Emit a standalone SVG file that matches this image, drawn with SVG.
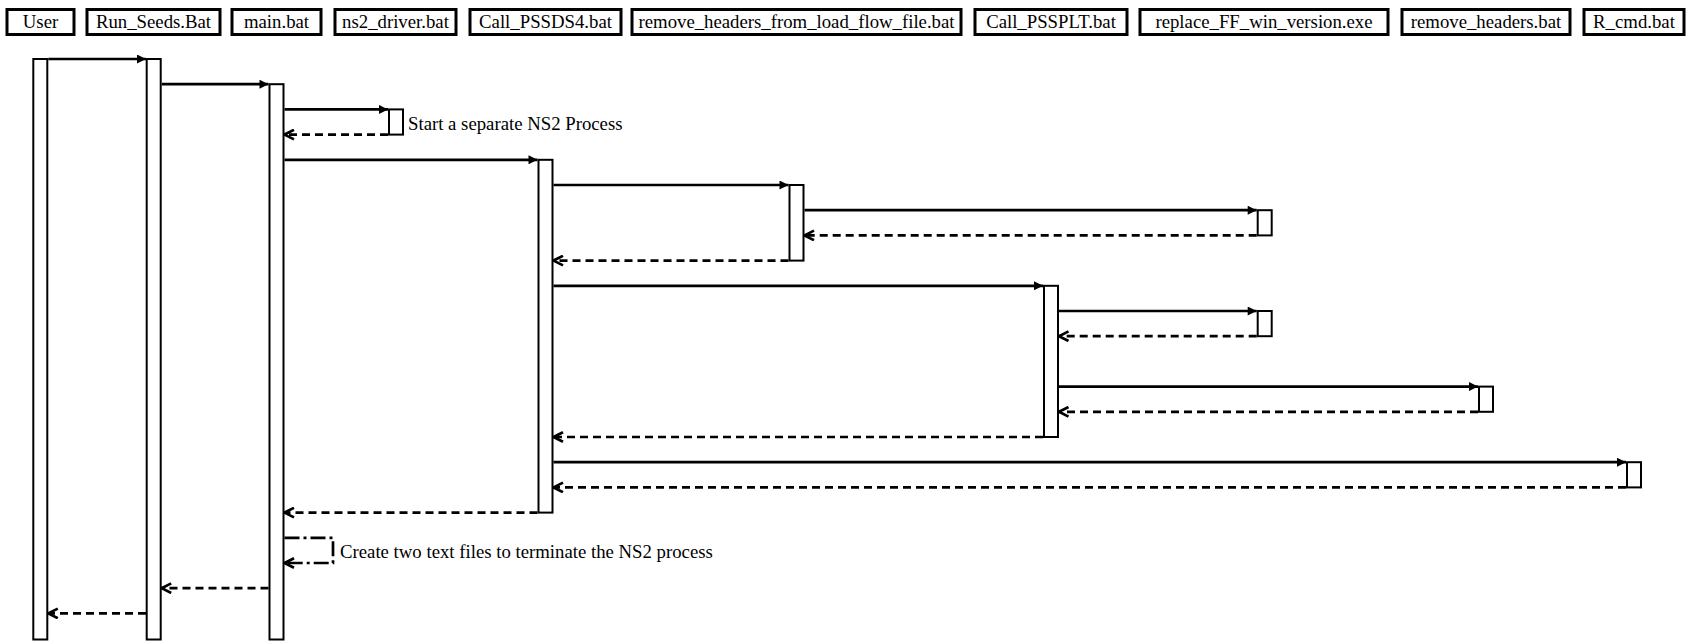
<svg xmlns="http://www.w3.org/2000/svg" width="1690" height="642" viewBox="0 0 1690 642">
<style>
  .hdr { fill: #fff; stroke: #000; stroke-width: 3; }
  .bar { fill: #fff; stroke: #000; stroke-width: 2; }
  .lbl { font-family: "Liberation Serif", "Times New Roman", serif; font-size: 18.75px; fill: #000; }
  .hl { text-anchor: middle; }
  .call { fill: none; stroke: #000; stroke-width: 2.7; marker-end: url(#solid); }
  .ret { fill: none; stroke: #000; stroke-width: 2.7; stroke-dasharray: 8 5; marker-end: url(#open); }
  .self { fill: none; stroke: #000; stroke-width: 2.7; stroke-dasharray: 15 4 3 4; marker-end: url(#open); }
</style>
<defs>
  <marker id="solid" markerUnits="userSpaceOnUse" viewBox="0 0 10 10" refX="10" refY="5" markerWidth="10" markerHeight="9" orient="auto">
    <path d="M0,0 L10,5 L0,10 z" fill="#000" stroke="none"/>
  </marker>
  <marker id="open" markerUnits="userSpaceOnUse" viewBox="0 0 12 12" refX="11" refY="6" markerWidth="12" markerHeight="12" orient="auto">
    <path d="M1.5,1.2 L11,6 L1.5,10.8" fill="none" stroke="#000" stroke-width="2.7" stroke-dasharray="none"/>
  </marker>
</defs>
<rect width="1690" height="642" fill="#fff"/>

<g id="user">
  <rect class="hdr" x="7" y="9.5" width="67" height="25"/>
  <text class="lbl hl" x="40.5" y="28">User</text>
  <rect class="bar" x="33.3" y="59" width="14" height="580.5"/>
</g>
<g id="run_seeds">
  <rect class="hdr" x="87" y="9.5" width="133" height="25"/>
  <text class="lbl hl" x="153.5" y="28">Run_Seeds.Bat</text>
  <rect class="bar" x="146.7" y="59" width="14" height="580.5"/>
</g>
<g id="main">
  <rect class="hdr" x="232" y="9.5" width="89" height="25"/>
  <text class="lbl hl" x="276.5" y="28">main.bat</text>
  <rect class="bar" x="269.5" y="84.2" width="14" height="555.3"/>
</g>
<g id="ns2_driver">
  <rect class="hdr" x="335" y="9.5" width="121" height="25"/>
  <text class="lbl hl" x="395.5" y="28">ns2_driver.bat</text>
  <rect class="bar" x="389" y="109.4" width="14" height="25.2"/>
</g>
<g id="call_pssds4">
  <rect class="hdr" x="470" y="9.5" width="151" height="25"/>
  <text class="lbl hl" x="545.5" y="28">Call_PSSDS4.bat</text>
  <rect class="bar" x="538.5" y="159.8" width="14" height="352.8"/>
</g>
<g id="remove_headers_from_load_flow_file">
  <rect class="hdr" x="632" y="9.5" width="329" height="25"/>
  <text class="lbl hl" x="796.5" y="28">remove_headers_from_load_flow_file.bat</text>
  <rect class="bar" x="789.5" y="185" width="14" height="75.6"/>
</g>
<g id="call_pssplt">
  <rect class="hdr" x="975" y="9.5" width="152" height="25"/>
  <text class="lbl hl" x="1051" y="28">Call_PSSPLT.bat</text>
  <rect class="bar" x="1044" y="285.8" width="14" height="151.2"/>
</g>
<g id="replace_ff">
  <rect class="hdr" x="1140" y="9.5" width="248" height="25"/>
  <text class="lbl hl" x="1264" y="28">replace_FF_win_version.exe</text>
  <rect class="bar" x="1257.7" y="210.2" width="14" height="25.2"/>
  <rect class="bar" x="1257.7" y="311" width="14" height="25.2"/>
</g>
<g id="remove_headers">
  <rect class="hdr" x="1402" y="9.5" width="168" height="25"/>
  <text class="lbl hl" x="1486" y="28">remove_headers.bat</text>
  <rect class="bar" x="1479" y="386.6" width="14" height="25.2"/>
</g>
<g id="r_cmd">
  <rect class="hdr" x="1584" y="9.5" width="100" height="25"/>
  <text class="lbl hl" x="1634" y="28">R_cmd.bat</text>
  <rect class="bar" x="1627" y="462.2" width="14" height="25.2"/>
</g>

<g id="connectors">
  <path class="call" d="M48.3,59 H146"/>
  <path class="call" d="M161.7,84.2 H268.5"/>
  <path class="call" d="M284.5,109.4 H388"/>
  <path class="ret" d="M388,134.6 H284.5"/>
  <text class="lbl" x="408" y="130">Start a separate NS2 Process</text>
  <path class="call" d="M284.5,159.8 H537.5"/>
  <path class="call" d="M553.5,185 H788.5"/>
  <path class="call" d="M804.5,210.2 H1256.7"/>
  <path class="ret" d="M1256.7,235.4 H804.5"/>
  <path class="ret" d="M788.5,260.6 H553.5"/>
  <path class="call" d="M553.5,285.8 H1043"/>
  <path class="call" d="M1059,311 H1256.7"/>
  <path class="ret" d="M1256.7,336.2 H1059"/>
  <path class="call" d="M1059,386.6 H1478"/>
  <path class="ret" d="M1478,411.8 H1059"/>
  <path class="ret" d="M1043,437 H553.5"/>
  <path class="call" d="M553.5,462.2 H1626"/>
  <path class="ret" d="M1626,487.4 H553.5"/>
  <path class="ret" d="M537.5,512.6 H284.5"/>
  <path class="self" d="M284.5,537.8 H333 V563 H284.5"/>
  <text class="lbl" x="340" y="557.5">Create two text files to terminate the NS2 process</text>
  <path class="ret" d="M268.5,588.2 H161.7"/>
  <path class="ret" d="M146,613.4 H48.3"/>
</g>
</svg>
